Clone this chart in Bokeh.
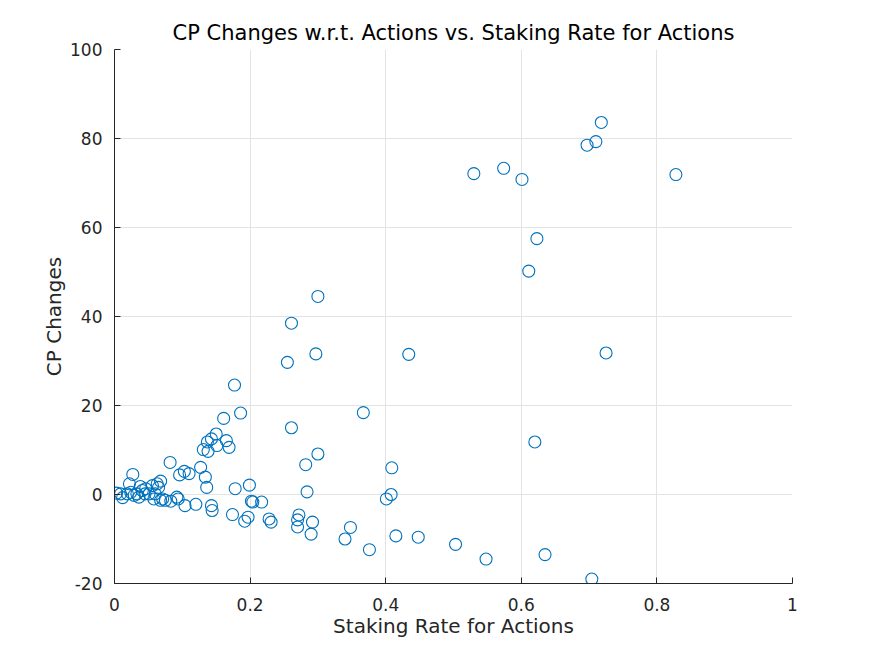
from bokeh.plotting import figure
from bokeh.models import Range1d, FixedTicker
from bokeh.embed import file_html
from bokeh.resources import INLINE

# Data
staking_rate = [
    0.718, 0.710, 0.697, 0.530, 0.574, 0.601, 0.828, 0.623, 0.611, 0.300,
    0.261, 0.297, 0.255, 0.434, 0.725, 0.177, 0.186, 0.367, 0.161, 0.261,
    0.620, 0.150, 0.143, 0.165, 0.137, 0.151, 0.169, 0.131, 0.138, 0.300,
    0.282, 0.409, 0.082, 0.127, 0.103, 0.096, 0.110, 0.027, 0.134, 0.136,
    0.178, 0.199, 0.284, 0.408, 0.401, 0.202, 0.204, 0.217, 0.104, 0.120,
    0.143, 0.144, 0.174, 0.197, 0.192, 0.228, 0.231, 0.272, 0.270, 0.270,
    0.292, 0.290, 0.348, 0.340, 0.376, 0.415, 0.448, 0.503, 0.548, 0.635,
    0.704, 0.022, 0.003, 0.009, 0.019, 0.024, 0.033, 0.041, 0.046, 0.045,
    0.036, 0.056, 0.063, 0.065, 0.060, 0.058, 0.068, 0.075, 0.068, 0.071,
    0.083, 0.092, 0.094, 0.051, 0.012, 0.029, 0.038,
]
cp_changes = [
    83.6, 79.3, 78.5, 72.1, 73.3, 70.8, 71.9, 57.5, 50.2, 44.5,
    38.5, 31.6, 29.7, 31.5, 31.8, 24.6, 18.3, 18.4, 17.1, 15.0,
    11.8, 13.6, 12.5, 12.1, 11.8, 11.0, 10.6, 10.1, 9.7, 9.1,
    6.7, 6.0, 7.2, 6.1, 5.2, 4.4, 4.7, 4.5, 3.9, 1.6,
    1.3, 2.1, 0.6, 0.0, -1.0, -1.5, -1.7, -1.7, -2.5, -2.2,
    -2.5, -3.6, -4.5, -5.1, -6.0, -5.5, -6.2, -4.6, -5.7, -7.3,
    -6.2, -8.9, -7.4, -10.0, -12.4, -9.3, -9.6, -11.2, -14.5, -13.5,
    -19.0, 2.4, 0.3, 0.15, 0.15, 0.5, 0.15, 0.9, 1.3, 0.15,
    -0.6, 2.0, 2.4, 1.6, 0.15, -1.0, -1.3, -1.3, 3.0, -1.0,
    -1.5, -0.6, -1.0, 0.15, -0.7, -0.2, 1.8,
]

x_ticks = [0, 0.2, 0.4, 0.6, 0.8, 1]
x_tick_labels = ["0", "0.2", "0.4", "0.6", "0.8", "1"]
y_ticks = [-20, 0, 20, 40, 60, 80, 100]
y_tick_labels = ["-20", "0", "20", "40", "60", "80", "100"]

title_text = "CP Changes w.r.t. Actions vs. Staking Rate for Actions"
x_label = "Staking Rate for Actions"
y_label = "CP Changes"

FONT = "DejaVu Sans"
DARK = "#262626"

p = figure(
    width=859, height=640,
    x_range=Range1d(0, 1), y_range=Range1d(-20, 100),
    output_backend="svg", toolbar_location=None,
    min_border_left=114, min_border_right=67,
    min_border_top=49, min_border_bottom=57,
    title=title_text,
)
p.background_fill_color = "white"
p.border_fill_color = "white"
p.outline_line_color = None

p.title.align = "center"
p.title.text_font = FONT
p.title.text_font_size = "21px"
p.title.text_font_style = "normal"
p.title.text_color = "black"
p.title.standoff = 10

for ax, ticks, labels in ((p.xaxis[0], x_ticks, x_tick_labels), (p.yaxis[0], y_ticks, y_tick_labels)):
    ax.ticker = FixedTicker(ticks=ticks)
    ax.major_label_overrides = {t: l for t, l in zip(ticks, labels)}
    ax.minor_tick_line_color = None
    ax.major_tick_in = 6
    ax.major_tick_out = 0
    ax.axis_line_color = DARK
    ax.major_tick_line_color = DARK
    ax.major_label_text_color = DARK
    ax.major_label_text_font = FONT
    ax.major_label_text_font_size = "17px"
    ax.axis_label_text_font = FONT
    ax.axis_label_text_font_size = "20px"
    ax.axis_label_text_font_style = "normal"
    ax.axis_label_text_color = DARK

p.xaxis.axis_label = x_label
p.yaxis.axis_label = y_label
p.xaxis.major_label_standoff = 14
p.yaxis.major_label_standoff = 12
p.xaxis.axis_label_standoff = 0
p.yaxis.axis_label_standoff = 1

p.grid.grid_line_color = "#e3e3e3"
p.grid.grid_line_width = 1
p.xgrid.ticker = FixedTicker(ticks=x_ticks)
p.ygrid.ticker = FixedTicker(ticks=y_ticks)

p.scatter(staking_rate, cp_changes, marker="circle", size=12,
          fill_color=None, line_color="#0072BD", line_width=1.1)

open("out.html", "w").write(file_html(p, INLINE))
